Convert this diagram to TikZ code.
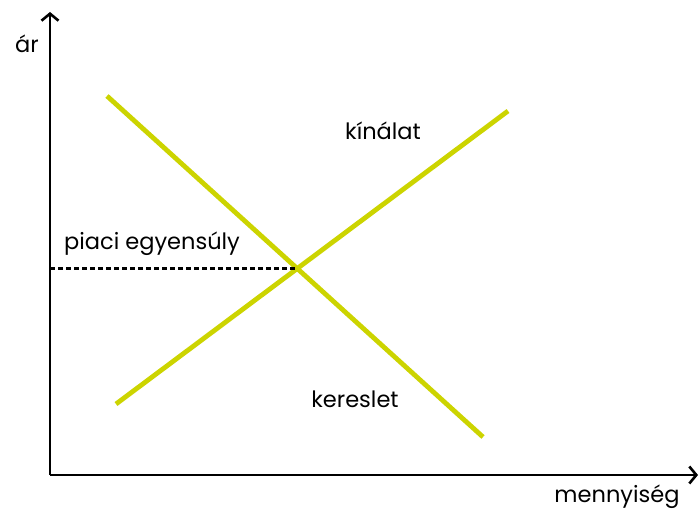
\documentclass[tikz,border=0pt]{standalone}
\usepackage{fontspec}
\setmainfont{Poppins}
\usetikzlibrary{arrows.meta}
\definecolor{curve}{RGB}{204,212,0}
\begin{document}
\begin{tikzpicture}[x=1pt,y=-1pt,
  axis/.style={line width=2.8pt,-{Straight Barb[length=7pt,width=17pt,line width=2.6pt]}},
  curveline/.style={curve,line width=4.8pt},
  guide/.style={line width=2.1pt,dash pattern=on 5pt off 3pt},
  lbl/.style={font=\fontsize{22.5}{26}\selectfont,inner sep=0pt}]
\useasboundingbox (0,0) rectangle (700,510);
\coordinate (o) at (50,475);
\coordinate (ytop) at (50,12);
\coordinate (xend) at (698,475);
\coordinate (d1) at (107,96);
\coordinate (d2) at (483,437);
\coordinate (s1) at (116,404);
\coordinate (s2) at (508,111);
\coordinate (eq) at (intersection of d1--d2 and s1--s2);
\coordinate (yeq) at (o |- eq);
\draw[axis] (o) -- (ytop);
\draw[axis] (o) -- (xend);
\draw[curveline] (d1) -- (d2);
\draw[curveline] (s1) -- (s2);
\draw[guide] (yeq) -- (eq);
\node[lbl] (ar) at (27,44) {ár};
\node[lbl] (menny) at (617,497) {mennyiség};
\node[lbl,anchor=west] (piaci) at (64,244) {piaci egyensúly};
\node[lbl] (kin) at (383,131) {kínálat};
\node[lbl] (ker) at (355,399) {kereslet};
\end{tikzpicture}
\end{document}
